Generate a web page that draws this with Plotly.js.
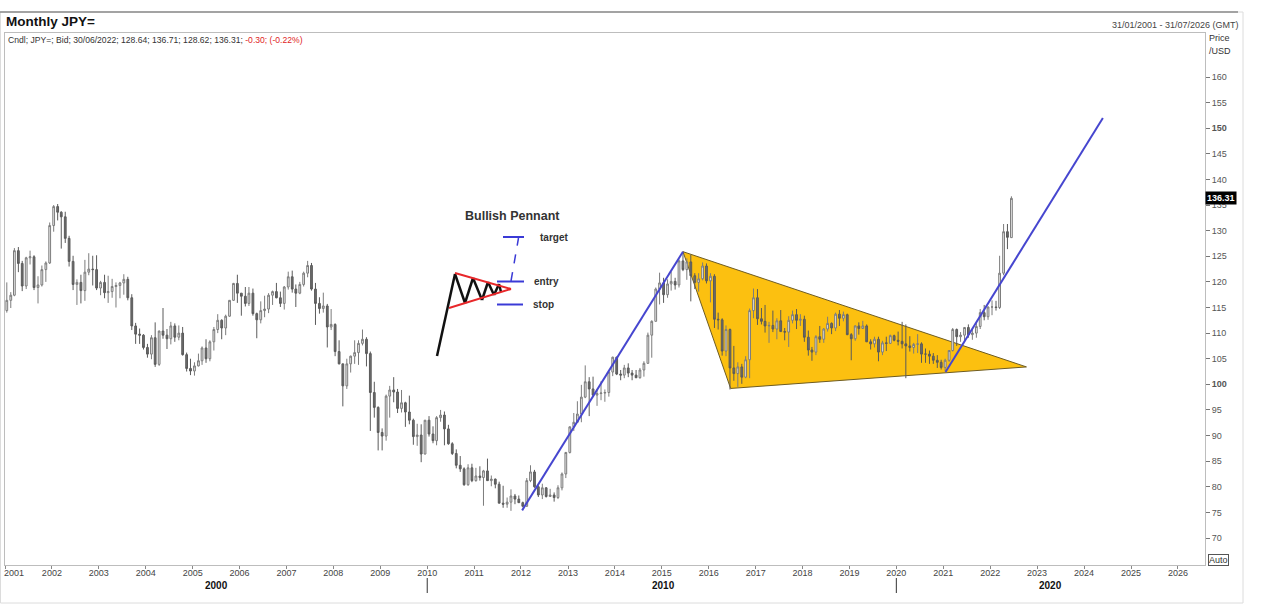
<!DOCTYPE html>
<html>
<head>
<meta charset="utf-8">
<script src="https://cdn.plot.ly/plotly-3.0.1.min.js"></script>
<style>
  html, body { margin: 0; padding: 0; background: #ffffff; }
  #chart { width: 1286px; height: 610px; }
</style>
</head>
<body>
<div id="chart"></div>
<script>
// ---------------- DATA (monthly USD/JPY candles, Jan 2001 - Jun 2022) ----------------
const firstYear = 2001;
const candleCount = 258;

const opens = [
  114.4,116.4,117.4,126.1,123.6,119.2,124.7,124.9,118.9,119.4,122.4,123.7, // 2001
  131.0,134.7,133.6,132.7,128.5,124.0,119.5,119.9,118.3,121.9,122.5,122.4, // 2002
  118.8,119.9,117.9,118.1,119.1,119.3,119.8,120.5,116.9,111.4,109.8,109.6, // 2003
  107.2,105.9,109.1,103.9,110.4,109.6,108.9,111.4,109.2,110.0,105.8,103.1, // 2004
  102.6,103.6,104.6,107.1,105.0,108.3,110.7,112.5,111.0,113.3,116.4,119.7, // 2005
  117.8,117.2,115.8,117.8,113.8,112.6,114.4,114.7,117.4,118.1,116.9,115.8, // 2006
  119.0,121.0,118.6,117.8,119.5,121.7,123.2,118.6,115.8,114.8,115.3,111.2, // 2007
  111.7,106.4,104.0,99.7,104.0,105.5,106.2,108.0,108.8,106.0,98.4,95.5,     // 2008
  90.6,89.9,97.7,98.9,98.5,95.3,96.4,94.6,93.0,89.8,90.1,86.4,              // 2009
  93.0,90.3,89.0,93.5,94.0,91.3,88.4,86.5,84.2,83.5,80.4,83.7,              // 2010
  81.2,82.1,81.8,83.1,81.2,81.5,80.5,76.8,76.6,77.0,78.2,77.6,              // 2011
  76.9,76.2,81.2,82.9,80.0,78.4,79.8,78.1,78.4,77.9,79.8,82.5,              // 2012
  86.7,91.7,92.6,94.2,97.5,100.5,99.1,97.9,98.2,98.3,98.4,102.4,            // 2013
  105.3,102.0,101.8,103.2,102.2,101.8,101.3,102.8,104.1,109.6,112.3,118.6,  // 2014
  119.8,117.5,119.6,120.1,119.4,124.1,122.4,123.9,121.2,119.9,120.6,123.1,  // 2015
  120.2,121.1,112.7,112.6,106.5,110.7,103.2,102.1,103.4,101.4,104.8,114.4,  // 2016
  116.9,112.8,112.3,111.4,111.5,110.8,112.4,110.3,110.2,112.5,113.6,112.5,  // 2017
  112.7,109.2,106.7,106.3,109.3,108.8,110.8,111.9,111.0,113.7,112.9,113.6,  // 2018
  109.7,108.9,111.4,110.9,111.4,108.3,107.9,108.8,106.3,108.1,108.0,109.5,  // 2019
  108.6,108.4,107.9,107.5,107.2,107.8,107.9,105.9,105.9,105.5,104.7,104.3,  // 2020
  103.3,104.7,106.6,110.7,109.3,109.6,111.1,109.7,110.0,111.3,114.0,113.2,  // 2021
  115.1,115.1,115.0,121.7,129.8,128.64                                      // 2022
];

const highs = [
  119.9,118.0,126.6,126.8,124.1,124.9,126.1,125.2,121.1,123.2,124.0,131.6,
  135.0,135.2,133.8,133.7,129.0,125.1,120.5,121.4,124.3,125.6,125.1,125.2,
  120.2,121.4,121.2,120.6,119.9,120.0,121.5,121.0,117.6,112.0,110.9,109.8,
  107.9,109.6,112.1,110.5,114.9,110.8,112.2,111.9,111.5,111.2,106.2,105.0,
  104.3,106.0,107.4,108.8,108.6,111.2,113.7,112.7,113.6,116.4,119.8,121.4,
  117.8,119.0,119.0,118.7,114.0,116.2,117.3,117.8,118.3,119.8,118.1,119.2,
  122.0,122.2,119.5,120.0,122.0,124.1,123.7,119.8,117.0,117.9,115.7,114.7,
  111.9,108.6,104.0,105.0,105.6,108.6,108.6,110.7,109.2,106.4,100.5,95.7,
  91.4,98.0,99.7,101.4,99.1,98.9,96.6,97.8,93.3,92.3,92.2,93.0,
  93.8,91.8,93.8,95.0,94.7,92.1,88.7,87.3,86.0,83.8,84.4,84.5,
  83.7,84.0,83.3,85.5,82.2,81.6,81.0,80.2,77.9,79.5,78.6,78.3,
  77.1,81.7,84.2,83.3,80.3,80.6,79.9,79.6,78.9,80.3,82.8,86.8,
  91.8,94.4,96.7,99.9,103.7,101.4,101.5,99.1,100.6,99.0,102.6,105.4,
  105.4,102.8,103.8,104.1,102.8,102.8,103.2,104.5,110.1,112.5,118.9,121.8,
  120.8,120.5,122.0,120.8,124.4,125.9,124.6,125.3,121.7,121.7,123.8,123.6,
  121.7,121.5,114.0,112.9,111.5,110.9,107.5,104.3,104.0,105.5,114.8,118.7,
  118.6,114.9,115.5,112.2,114.4,112.9,114.5,111.0,113.3,114.4,114.7,113.7,
  113.4,110.5,107.3,109.6,111.4,111.0,113.2,112.1,114.0,114.5,114.2,113.8,
  110.0,111.5,112.1,112.4,111.7,108.8,109.3,109.3,108.5,109.3,109.7,109.7,
  110.3,112.2,111.7,109.4,108.1,109.8,108.2,107.0,106.6,106.1,105.7,104.8,
  105.0,106.7,111.0,110.9,110.2,111.1,111.7,110.8,112.0,114.7,115.5,115.2,
  116.4,116.3,125.1,131.3,131.3,136.71
];

const lows = [
  114.0,114.9,117.2,121.9,118.2,118.6,123.4,118.4,115.8,119.1,120.0,123.5,
  129.8,132.0,126.5,127.6,123.0,118.4,115.5,115.8,116.3,121.3,119.3,118.4,
  117.4,116.8,115.9,116.9,115.0,116.8,117.5,116.4,110.6,107.9,107.9,106.8,
  105.2,104.9,103.4,103.6,108.9,106.9,107.8,108.3,108.6,105.6,102.5,101.8,
  101.7,103.5,103.8,104.2,104.5,106.6,110.0,108.8,109.6,113.2,116.3,115.9,
  113.4,115.2,115.3,113.4,109.0,111.9,113.1,113.9,115.5,116.8,115.1,114.6,
  118.5,117.9,115.1,117.6,119.1,120.9,118.3,111.6,113.8,114.0,107.2,110.6,
  105.5,103.9,95.7,99.1,102.3,104.0,103.8,107.6,103.5,90.9,93.5,87.1,
  87.1,89.0,93.5,96.5,94.4,94.5,91.7,92.2,88.2,88.0,84.8,86.3,
  89.8,88.5,88.1,92.7,88.1,88.2,86.2,83.6,82.9,80.2,80.2,80.9,
  81.0,81.2,76.3,81.2,80.1,79.7,76.8,75.9,75.9,75.3,76.6,76.9,
  76.0,76.1,80.9,79.8,78.0,77.6,77.9,78.1,77.1,77.6,79.3,81.7,
  86.5,90.9,92.5,92.6,97.3,93.8,97.6,95.8,96.9,96.6,97.6,101.6,
  101.8,100.8,101.2,101.4,100.8,101.2,101.1,101.5,104.0,105.2,112.3,115.6,
  115.9,116.9,118.3,118.5,118.9,122.1,120.4,116.2,118.6,118.1,120.3,119.7,
  116.0,111.0,110.7,105.6,105.5,99.0,100.7,99.5,100.1,101.2,101.2,112.9,
  111.6,111.7,110.1,108.1,110.2,108.8,110.3,108.6,107.3,111.9,110.8,111.4,
  108.3,105.6,104.6,105.7,108.1,108.1,110.3,109.8,110.4,111.4,112.3,109.6,
  104.7,108.5,109.7,110.8,108.3,106.8,107.2,104.5,105.7,106.5,107.9,108.4,
  107.6,107.0,101.2,106.4,106.0,106.1,104.2,104.2,104.0,104.0,103.2,102.9,
  102.6,104.4,106.4,107.5,108.3,108.6,109.1,108.7,109.1,110.8,112.5,112.6,
  113.5,114.4,114.7,121.3,126.4,128.62
];

const closes = [
  116.4,117.4,126.1,123.6,119.2,124.7,124.9,118.9,119.4,122.4,123.7,131.0,
  134.7,133.6,132.7,128.5,124.0,119.5,119.9,118.3,121.9,122.5,122.4,118.8,
  119.9,117.9,118.1,119.1,119.3,119.8,120.5,116.9,111.4,109.8,109.6,107.2,
  105.9,109.1,103.9,110.4,109.6,108.9,111.4,109.2,110.0,105.8,103.1,102.6,
  103.6,104.6,107.1,105.0,108.3,110.7,112.5,111.0,113.3,116.4,119.7,117.8,
  117.2,115.8,117.8,113.8,112.6,114.4,114.7,117.4,118.1,116.9,115.8,119.0,
  121.0,118.6,117.8,119.5,121.7,123.2,118.6,115.8,114.8,115.3,111.2,111.7,
  106.4,104.0,99.7,104.0,105.5,106.2,108.0,108.8,106.0,98.4,95.5,90.6,
  89.9,97.7,98.9,98.5,95.3,96.4,94.6,93.0,89.8,90.1,86.4,93.0,
  90.3,89.0,93.5,94.0,91.3,88.4,86.5,84.2,83.5,80.4,83.7,81.2,
  82.1,81.8,83.1,81.2,81.5,80.5,76.8,76.6,77.0,78.2,77.6,76.9,
  76.2,81.2,82.9,80.0,78.4,79.8,78.1,78.4,77.9,79.8,82.5,86.7,
  91.7,92.6,94.2,97.5,100.5,99.1,97.9,98.2,98.3,98.4,102.4,105.3,
  102.0,101.8,103.2,102.2,101.8,101.3,102.8,104.1,109.6,112.3,118.6,119.8,
  117.5,119.6,120.1,119.4,124.1,122.4,123.9,121.2,119.9,120.6,123.1,120.2,
  121.1,112.7,112.6,106.5,110.7,103.2,102.1,103.4,101.4,104.8,114.4,116.9,
  112.8,112.3,111.4,111.5,110.8,112.4,110.3,110.2,112.5,113.6,112.5,112.7,
  109.2,106.7,106.3,109.3,108.8,110.8,111.9,111.0,113.7,112.9,113.6,109.7,
  108.9,111.4,110.9,111.4,108.3,107.9,108.8,106.3,108.1,108.0,109.5,108.6,
  108.4,107.9,107.5,107.2,107.8,107.9,105.9,105.9,105.5,104.7,104.3,103.3,
  104.7,106.6,110.7,109.3,109.6,111.1,109.7,110.0,111.3,114.0,113.2,115.1,
  115.1,115.0,121.7,129.8,128.7,136.31
];

// Trend lines and pennant triangle drawn on the chart (date, price)
const riseLineX = ['2012-01-10', '2015-06-15'];
const riseLineY = [75.4, 125.9];
const breakoutLineX = ['2021-01-18', '2024-05-27'];
const breakoutLineY = [102.4, 152.0];
const pennantX = ['2015-06-15', '2016-06-20', '2022-10-10'];
const pennantY = [125.9, 99.2, 103.4];

// Axis ticks and labels
const yearLabels = ['2001','2002','2003','2004','2005','2006','2007','2008','2009','2010','2011','2012','2013',
                    '2014','2015','2016','2017','2018','2019','2020','2021','2022','2023','2024','2025','2026'];
const decadeLabels = ['2000', '2010', '2020'];
const priceTicks = [70,75,80,85,90,95,100,105,110,115,120,125,130,135,140,145,150,155,160];
const boldPriceTicks = [100, 150];
const lastPrice = 136.31;

// ---------------- BUILD ----------------
const months = [];
for (let i = 0; i < candleCount; i++) {
  const y = firstYear + Math.floor(i / 12);
  const m = (i % 12) + 1;
  months.push(y + '-' + String(m).padStart(2, '0') + '-15');
}

// plot area in pixels: x 5..1205, y 33..565
const PX = x => (x - 5) / 1200;
const PY = y => (565 - y) / 532;

const FONT = '"Liberation Sans", Arial, Helvetica, sans-serif';

const candles = {
  type: 'candlestick',
  x: months, open: opens, high: highs, low: lows, close: closes,
  increasing: { line: { color: '#7c7c7c', width: 1 }, fillcolor: '#ececec' },
  decreasing: { line: { color: '#5a5a5a', width: 1 }, fillcolor: '#6c6c6c' },
  whiskerwidth: 0,
  hoverinfo: 'none',
  showlegend: false
};

const riseLine = {
  type: 'scatter', mode: 'lines', x: riseLineX, y: riseLineY,
  line: { color: '#4646cf', width: 2 }, hoverinfo: 'none', showlegend: false
};
const breakoutLine = {
  type: 'scatter', mode: 'lines', x: breakoutLineX, y: breakoutLineY,
  line: { color: '#4646cf', width: 2 }, hoverinfo: 'none', showlegend: false, cliponaxis: false
};

const tickVals = yearLabels.map(y => y + '-01-01');
const tickText = yearLabels.map((y, i) => i === 0 ? '' : y);

const shapes = [];
// triangle (below candles)
shapes.push({
  type: 'path', layer: 'below', xref: 'x', yref: 'y',
  path: 'M' + pennantX[0] + ',' + pennantY[0] + 'L' + pennantX[1] + ',' + pennantY[1] +
        'L' + pennantX[2] + ',' + pennantY[2] + 'Z',
  fillcolor: '#fcc010', line: { color: '#6e5c22', width: 1 }
});
// outer panel
shapes.push({ type: 'rect', xref: 'paper', yref: 'paper', layer: 'below',
  x0: PX(0.5), x1: PX(1243), y0: PY(603), y1: PY(12),
  line: { color: '#dcdcdc', width: 1 } });
shapes.push({ type: 'line', xref: 'paper', yref: 'paper',
  x0: PX(0), x1: PX(1238), y0: PY(12), y1: PY(12),
  line: { color: '#8a8a8a', width: 1.5 } });
// decade separators
['2010-01-01', '2020-01-01'].forEach(d => shapes.push({
  type: 'line', xref: 'x', yref: 'paper', x0: d, x1: d, y0: PY(578), y1: PY(593),
  line: { color: '#333333', width: 1 }
}));

// Bullish pennant inset (pixel positions)
function seg(x0, y0, x1, y1, color, width, dash) {
  shapes.push({ type: 'line', xref: 'paper', yref: 'paper',
    x0: PX(x0), y0: PY(y0), x1: PX(x1), y1: PY(y1),
    line: { color: color, width: width, dash: dash || 'solid' } });
}
const zig = [[437,356],[455,274],[465,303],[473,278],[482,300],[488,282],[494,295],[499,284],[501,292]];
for (let i = 0; i < zig.length - 1; i++) seg(zig[i][0], zig[i][1], zig[i+1][0], zig[i+1][1], '#111111', 2.5);
seg(455, 273, 511, 289, '#e8272a', 2);
seg(449, 308, 511, 289, '#e8272a', 2);
seg(503, 237, 524, 237, '#3a3ad6', 2);
seg(497, 281.5, 524, 281.5, '#3a3ad6', 2);
seg(497, 304.5, 523, 304.5, '#3a3ad6', 2);
seg(511, 281, 518.5, 238, '#3a3ad6', 1.5, 'dash');

const annotations = [];
function txt(text, x, y, size, color, xanchor, extra) {
  annotations.push(Object.assign({
    text: text, xref: 'paper', yref: 'paper', x: PX(x), y: PY(y),
    xanchor: xanchor || 'left', yanchor: 'middle', showarrow: false,
    font: { family: FONT, size: size, color: color }
  }, extra || {}));
}
txt('<b>Monthly JPY=</b>', 4, 21, 13.5, '#111111');
txt('Cndl; JPY=; Bid; 30/06/2022; 128.64; 136.71; 128.62; 136.31; <span style="color:#e02424">-0.30; (-0.22%)</span>',
    6, 40, 8.6, '#333333');
txt('31/01/2001 - 31/07/2026 (GMT)', 1241, 25, 9, '#444444', 'right');
txt('Price', 1207, 38, 9, '#333333');
txt('/USD', 1207, 51, 9, '#333333');
txt('Auto', 1208, 560, 9, '#333333', 'left', { bordercolor: '#555555', borderwidth: 1, borderpad: 0 });
txt(yearLabels[0], 14, 573, 9, '#444444', 'center');
txt('<b>' + decadeLabels[0] + '</b>', 216, 585, 10, '#111111', 'center');
txt('<b>' + decadeLabels[1] + '</b>', 663, 585, 10, '#111111', 'center');
txt('<b>' + decadeLabels[2] + '</b>', 1050, 585, 10, '#111111', 'center');
txt('<b>Bullish Pennant</b>', 512, 216, 12.5, '#333333', 'center');
txt('<b>target</b>', 538, 237, 10, '#333333');
txt('<b>entry</b>', 532, 281, 10, '#333333');
txt('<b>stop</b>', 531, 304, 10, '#333333');
// last price box
annotations.push({
  text: '<b>' + lastPrice.toFixed(2) + '</b>', xref: 'paper', yref: 'y', x: 1, y: lastPrice,
  xanchor: 'left', yanchor: 'middle', showarrow: false, bgcolor: '#000000', borderpad: 1,
  font: { family: FONT, size: 9, color: '#ffffff' }
});

const layout = {
  width: 1286, height: 610,
  margin: { l: 5, r: 81, t: 33, b: 45, pad: 0 },
  paper_bgcolor: '#ffffff', plot_bgcolor: '#ffffff',
  font: { family: FONT, size: 9, color: '#444444' },
  showlegend: false,
  dragmode: false,
  xaxis: {
    type: 'date', range: ['2001-01-01', '2026-07-31'],
    rangeslider: { visible: false },
    tickmode: 'array', tickvals: tickVals, ticktext: tickText,
    showgrid: false, zeroline: false,
    showline: true, mirror: true, linecolor: '#bdbdbd', linewidth: 1,
    ticks: 'outside', ticklen: 3, tickcolor: '#888888',
    ticklabelstandoff: -4,
    tickfont: { family: FONT, size: 9, color: '#444444' }
  },
  yaxis: {
    side: 'right', range: [64.73, 168.59],
    tickmode: 'array', tickvals: priceTicks,
    ticktext: priceTicks.map(v => boldPriceTicks.includes(v) ? '<b>' + v + '</b>' : String(v)),
    showgrid: false, zeroline: false,
    showline: true, mirror: true, linecolor: '#bdbdbd', linewidth: 1,
    ticks: 'outside', ticklen: 4, tickcolor: '#777777',
    tickfont: { family: FONT, size: 9, color: '#555555' }
  },
  shapes: shapes,
  annotations: annotations
};

Plotly.newPlot('chart', [candles, riseLine, breakoutLine], layout, { staticPlot: true, displayModeBar: false });
</script>
</body>
</html>
